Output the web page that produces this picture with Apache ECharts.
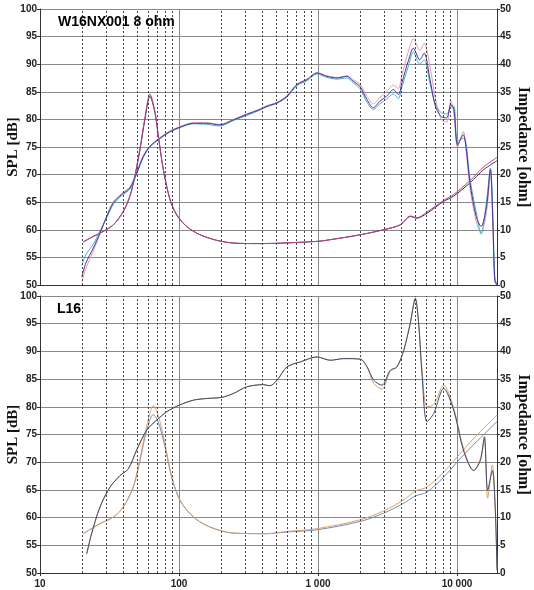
<!DOCTYPE html>
<html>
<head>
<meta charset="utf-8">
<script src="https://cdn.jsdelivr.net/npm/echarts@6/dist/echarts.min.js"></script>
<style>
  html, body { margin: 0; padding: 0; background: #fff; }
  #chart { width: 534px; height: 590px; }
</style>
</head>
<body>
<div id="chart"></div>
<script>
// tick labels / grid
const splTicks = [50, 100];
const impTicks = [0, 50];
const minorTicks = [20, 30, 40, 50, 60, 70, 80, 90, 200, 300, 400, 500, 600, 700, 800, 900,
  2000, 3000, 4000, 5000, 6000, 7000, 8000, 9000];

// top panel: W16NX001 8 ohm - SPL (several samples)
const topSplFreq = [20, 21.4, 24.2, 27, 30.2, 33.7, 38.7, 44.4, 49.6, 55.4,
  61.8, 72.9, 86, 101.6, 127, 158, 197, 246, 307, 383,
  430, 507, 598, 706, 833, 984, 1161, 1371, 1610, 1795,
  2000, 2250, 2500, 2790, 3120, 3480, 3790, 4010, 4490, 4850,
  5400, 5800, 6400, 6990, 7700, 8430, 9020, 9500, 10100, 11100,
  11600, 12400, 13750, 14900, 16300, 17400, 18100, 18700, 19400];
const topSplA = [51.5, 54, 56.7, 59.4, 62.4, 64.9, 66.4, 67.6, 70.3, 73.3,
  75.1, 76.6, 77.8, 78.6, 79.3, 79.3, 79.0, 79.9, 80.9, 81.8,
  82.4, 83.0, 84.2, 86.3, 87.2, 88.4, 87.8, 87.5, 87.8, 86.9,
  86.0, 83.6, 82.1, 83.3, 84.2, 85.4, 84.5, 86.6, 90.8, 92.9,
  90.8, 92.0, 87.2, 82.4, 80.5, 80.3, 82.7, 81.8, 75.4, 77.2,
  75.1, 68.5, 62.4, 60.6, 64.2, 70.9, 61.8, 50.9, 50];
const topSplB = [50.5, 53, 56.2, 59.2, 62.5, 65.1, 66.6, 67.8, 70.5, 73.5,
  75.2, 76.7, 77.9, 78.7, 79.4, 79.4, 79.1, 80.0, 81.0, 81.9,
  82.5, 83.1, 84.3, 86.4, 87.3, 88.5, 87.9, 87.6, 87.9, 87.2,
  86.4, 84.2, 82.8, 84.0, 85.0, 86.2, 85.6, 88.0, 92.5, 94.6,
  92.5, 93.8, 89.5, 83.8, 80.0, 79.5, 83.4, 81.0, 75.0, 77.8,
  74.6, 67.5, 61.5, 59.5, 63.2, 70.2, 60.5, 50.5, 50];
const topSplC = [53.5, 55.5, 57.4, 59.8, 62.2, 64.6, 66.2, 67.4, 70.1, 73.1,
  75.0, 76.5, 77.7, 78.5, 79.2, 79.1, 78.8, 79.8, 80.7, 81.7,
  82.3, 82.9, 84.0, 86.1, 87.0, 88.2, 87.6, 87.3, 87.5, 86.6,
  85.6, 83.1, 81.8, 82.8, 83.7, 84.6, 83.8, 85.8, 89.8, 92.2,
  90.0, 90.8, 86.4, 82.8, 81.2, 81.0, 82.2, 82.4, 76.0, 76.6,
  75.8, 69.2, 63.2, 59.2, 65.2, 71.2, 63.0, 51.5, 50];

// top panel impedance [ohm]
const topImpFreq = [20.5, 24.2, 28.5, 33.7, 39.7, 44.4, 48.2, 52.4, 56.9, 61.8,
  67.1, 71, 77.1, 86, 96.1, 113.5, 141.6, 186.6, 246, 383,
  984, 1220, 2014, 2950, 3909, 4613, 5153, 6081, 7970, 9463,
  12400, 15560, 19400];
const topImpA = [7.8, 8.8, 9.7, 10.9, 13.3, 16.1, 19.7, 24.5, 30.0, 34.2,
  31.2, 26.9, 20.9, 15.5, 12.7, 10.6, 9.1, 8.1, 7.6, 7.5,
  7.9, 8.2, 9.1, 10.0, 10.9, 12.4, 12.1, 13.0, 15.1, 16.1,
  18.5, 20.9, 22.5];
const topImpB = [7.8, 8.8, 9.7, 10.9, 13.3, 16.2, 19.9, 24.8, 30.4, 34.6,
  31.5, 27.1, 21.0, 15.6, 12.8, 10.6, 9.1, 8.1, 7.6, 7.5,
  7.9, 8.2, 9.1, 10.0, 10.9, 12.5, 12.2, 13.2, 15.3, 16.4,
  18.9, 21.4, 23.1];

// bottom panel: L16 - SPL
const botSplFreq = [21.7, 23.5, 27, 31.9, 37.7, 43.2, 49.6, 58.6, 69.1, 81.5,
  100.5, 127, 158, 203, 246, 307, 405, 450, 507, 598,
  746, 984, 1227, 1531, 2014, 2255, 2518, 2884, 3311, 3700,
  4138, 4613, 5012, 5297, 5597, 6081, 6797, 8018, 9463, 11170,
  13180, 14720, 15740, 16630, 17960, 18870, 19400];
const botSplA = [53.5, 57.1, 61.9, 65.5, 67.6, 68.8, 72.2, 75.8, 77.6, 79.1,
  80.3, 81.2, 81.5, 81.7, 82.4, 83.6, 84.0, 83.8, 84.8, 87.2,
  88.1, 89.0, 88.4, 88.7, 88.6, 87.2, 84.8, 83.9, 86.6, 87.2,
  90.2, 95.1, 99.6, 95.1, 86.0, 77.3, 78.8, 83.3, 79.4, 72.0,
  68.5, 70.3, 74.6, 64.9, 68.5, 61.3, 50.5];
const botSplB = [53.5, 57.1, 61.9, 65.5, 67.6, 68.8, 72.2, 75.8, 77.6, 79.1,
  80.3, 81.2, 81.5, 81.7, 82.4, 83.6, 84.0, 83.8, 84.8, 87.2,
  88.1, 89.0, 88.4, 88.7, 88.6, 87.2, 84.2, 83.2, 86.4, 87.2,
  90.2, 95.1, 99.4, 95.1, 86.8, 80.0, 80.4, 83.9, 79.8, 72.4,
  68.5, 70.6, 74.2, 63.5, 69.5, 61.0, 50.5];

// bottom panel impedance [ohm]
const botImpFreq = [20.5, 27, 33.7, 39.7, 46.9, 52.4, 58.6, 65.3, 71, 79.3,
  88.5, 101.6, 127, 167, 246, 427, 598, 984, 2014, 2965,
  4138, 5012, 6081, 8018, 10000, 13180, 19400];
const botImpA = [7.1, 8.9, 10.1, 11.9, 15.5, 20.3, 25.8, 28.6, 27.2, 22.8,
  17.3, 13.1, 10.1, 8.3, 7.2, 7.1, 7.4, 7.8, 9.3, 10.8,
  12.6, 13.9, 14.6, 17.3, 20.0, 23.2, 27.3];
const botImpB = [7.1, 8.9, 10.1, 11.9, 15.6, 20.6, 26.5, 30.2, 28.4, 23.3,
  17.5, 13.2, 10.1, 8.3, 7.2, 7.1, 7.5, 8.0, 9.6, 11.2,
  13.2, 14.8, 15.5, 18.2, 20.9, 24.3, 28.5];

const chart = echarts.init(document.getElementById('chart'));

const labelFont = { fontFamily: 'Liberation Sans', fontWeight: 'bold', fontSize: 10, color: '#222' };
const nameFont = { fontFamily: 'Liberation Serif', fontWeight: 'bold', fontSize: 16, color: '#111' };

function line(freqs, vals, xi, yi, color, width) {
  return {
    type: 'line',
    xAxisIndex: xi,
    yAxisIndex: yi,
    data: freqs.map((f, i) => [f, vals[i]]),
    showSymbol: false,
    smooth: 0.3,
    silent: true,
    lineStyle: { color: color, width: width || 1 },
    itemStyle: { color: color }
  };
}

function minorLines() {
  return {
    silent: true,
    symbol: 'none',
    label: { show: false },
    lineStyle: { type: [2, 2], color: '#444', width: 1 },
    data: minorTicks.map(v => ({ xAxis: v }))
  };
}

function xAxis(gi, showLabels) {
  return {
    type: 'log',
    logBase: 10,
    gridIndex: gi,
    min: 10,
    max: 19400,
    axisLine: { lineStyle: { color: '#333' } },
    axisTick: { show: showLabels, length: 3, lineStyle: { color: '#333' } },
    axisLabel: Object.assign({
      show: showLabels,
      margin: 6,
      showMaxLabel: false,
      formatter: v => String(Math.round(v)).replace(/\B(?=(\d{3})+(?!\d))/g, ' ')
    }, labelFont),
    splitLine: { show: true, lineStyle: { color: '#888', width: 1 } }
  };
}

function yAxes(gi) {
  return [{
    type: 'value',
    gridIndex: gi,
    min: splTicks[0],
    max: splTicks[1],
    interval: 5,
    name: 'SPL [dB]',
    nameLocation: 'middle',
    nameGap: 19,
    nameMoveOverlap: false,
    nameTextStyle: Object.assign({}, nameFont, { fontSize: 15 }),
    axisLine: { show: true, lineStyle: { color: '#333' } },
    axisTick: { show: true, length: 3, lineStyle: { color: '#333' } },
    axisLabel: Object.assign({ margin: 3 }, labelFont),
    splitLine: { show: true, lineStyle: { color: '#888', width: 1 } }
  }, {
    type: 'value',
    gridIndex: gi,
    position: 'right',
    min: impTicks[0],
    max: impTicks[1],
    interval: 5,
    name: 'Impedance [ohm]',
    nameLocation: 'middle',
    nameRotate: -90,
    nameGap: 18,
    nameMoveOverlap: false,
    nameTextStyle: nameFont,
    axisLine: { show: true, lineStyle: { color: '#333' } },
    axisTick: { show: true, length: 3, lineStyle: { color: '#333' } },
    axisLabel: Object.assign({ margin: 3 }, labelFont),
    splitLine: { show: false }
  }];
}

const topFirst = line(topImpFreq, topImpA, 0, 1, '#3a3550');
topFirst.markLine = minorLines();
const botFirst = line(botImpFreq, botImpA, 1, 3, '#6f8fb8');
botFirst.markLine = minorLines();

chart.setOption({
  animation: false,
  backgroundColor: '#fff',
  title: [
    { text: 'W16NX001 8 ohm', left: 58, top: 15, padding: 0,
      textStyle: { fontFamily: 'Liberation Sans', fontWeight: 'bold', fontSize: 14, color: '#000' } },
    { text: 'L16', left: 57, top: 302, padding: 0,
      textStyle: { fontFamily: 'Liberation Sans', fontWeight: 'bold', fontSize: 14, color: '#000' } }
  ],
  grid: [
    { left: 40, right: 37, top: 9, height: 276, containLabel: false, outerBoundsMode: 'none' },
    { left: 40, right: 37, top: 296, height: 277, containLabel: false, outerBoundsMode: 'none' }
  ],
  xAxis: [xAxis(0, false), xAxis(1, true)],
  yAxis: yAxes(0).concat(yAxes(1)),
  series: [
    topFirst,
    line(topImpFreq, topImpB, 0, 1, '#b8408c'),
    line(topSplFreq, topSplB, 0, 0, '#e59aae'),
    line(topSplFreq, topSplC, 0, 0, '#45b3c2'),
    line(topSplFreq, topSplA, 0, 0, '#4a2fa0'),
    botFirst,
    line(botImpFreq, botImpB, 1, 3, '#d9a070'),
    line(botSplFreq, botSplB, 1, 2, '#d9a070'),
    line(botSplFreq, botSplA, 1, 2, '#3d4a6a')
  ]
});
</script>
</body>
</html>
